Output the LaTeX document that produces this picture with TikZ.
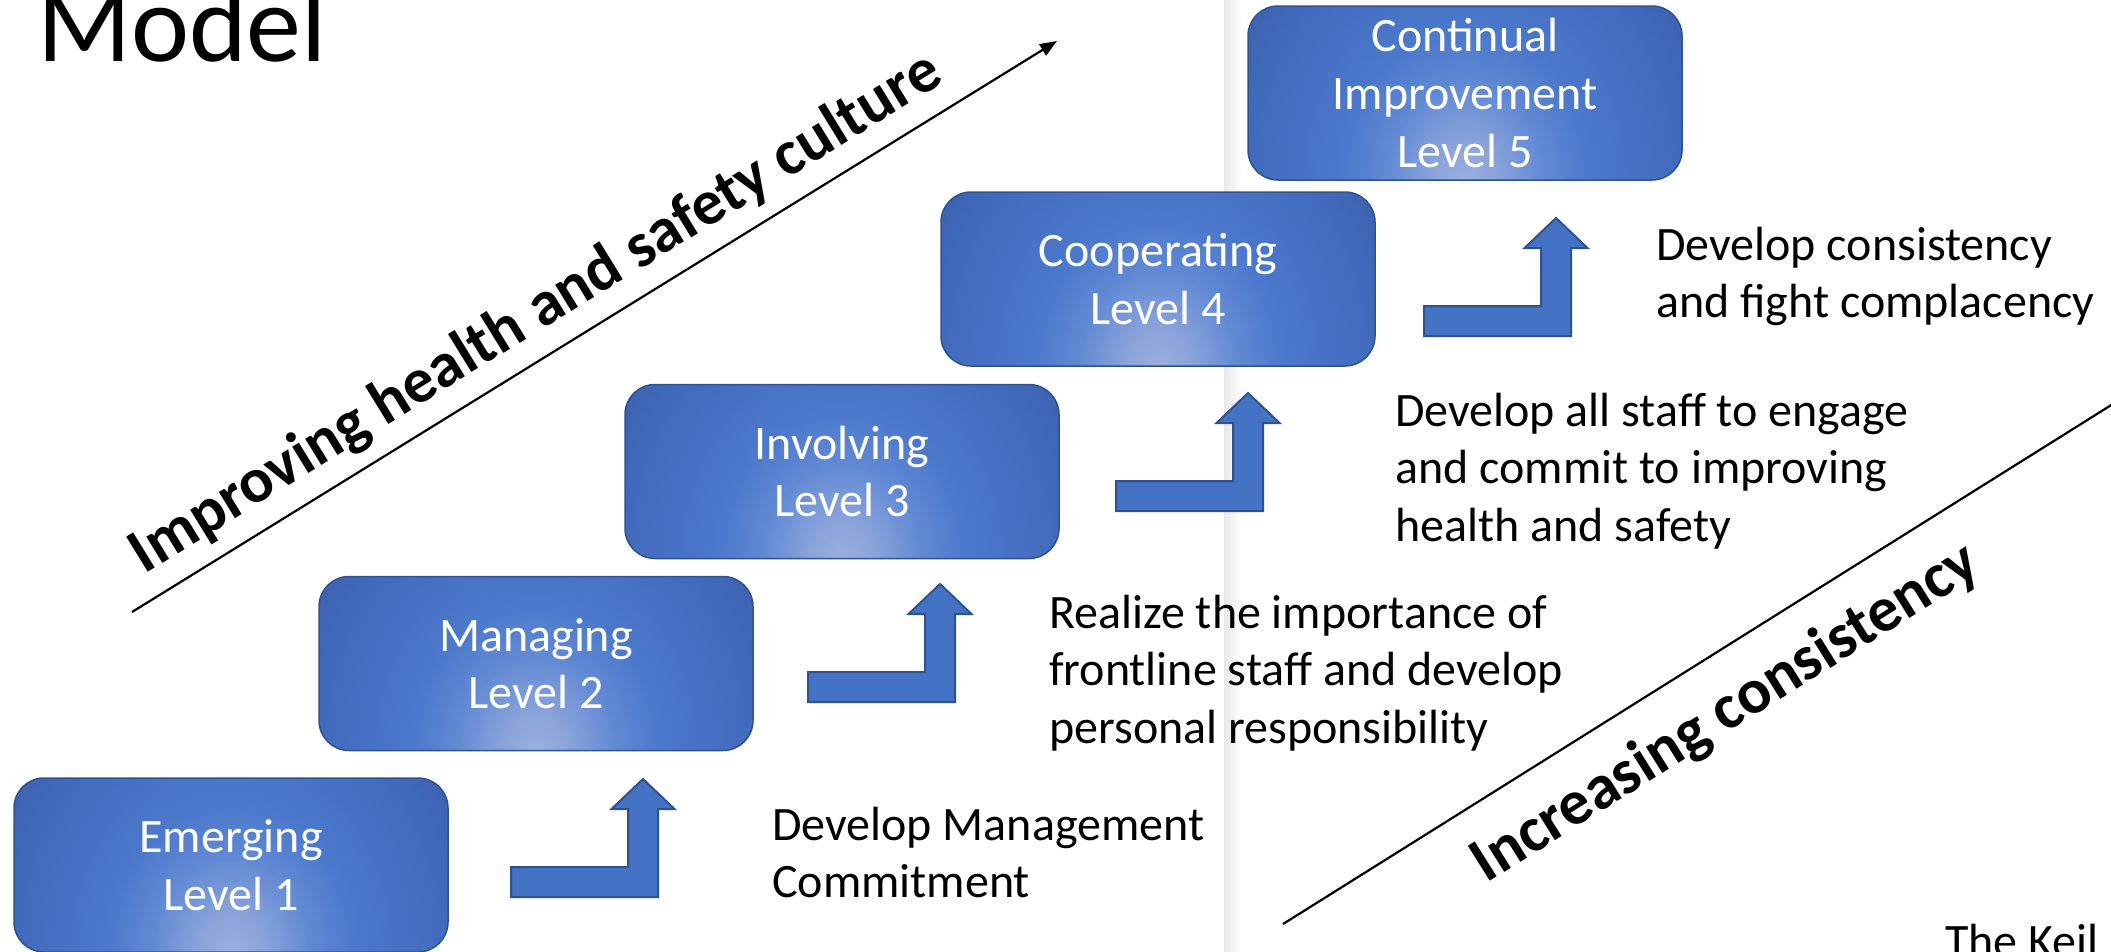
\documentclass[tikz,border=0pt]{standalone}
\usepackage{fontspec}
\setmainfont{Carlito}
\usetikzlibrary{arrows.meta,calc}
\definecolor{boxlight}{RGB}{154,176,222}
\definecolor{boxlightb}{RGB}{136,162,218}
\definecolor{boxa}{RGB}{98,138,212}
\definecolor{boxb}{RGB}{76,121,204}
\definecolor{boxc}{RGB}{65,106,188}
\definecolor{boxd}{RGB}{55,90,162}
\definecolor{boxe}{RGB}{46,78,140}
\definecolor{boxdark}{RGB}{41,71,127}
\definecolor{boxline}{RGB}{47,82,143}
\definecolor{arrowfill}{RGB}{68,114,196}
\pgfdeclareradialshading{boxshade}{\pgfpoint{0bp}{0bp}}{color(0bp)=(boxlight); color(4bp)=(boxlightb); color(9bp)=(boxa); color(14bp)=(boxb); color(25bp)=(boxc); color(35bp)=(boxd); color(45bp)=(boxe); color(50bp)=(boxdark)}
\begin{document}
\begin{tikzpicture}[x=1pt,y=-1pt,
  lvl/.style={rectangle, rounded corners=30pt, minimum width=434pt, minimum height=174pt,
    draw=boxline, line width=1.5pt, text=white, align=center, inner sep=0pt,
    font=\fontsize{48}{57.6}\selectfont,
    path picture={\shade[shading=boxshade]
      ($(path picture bounding box.south)+(-217pt,-260pt)$) rectangle
      ($(path picture bounding box.south)+(217pt,260pt)$);}},
  desc/.style={anchor=base west, inner sep=0pt, text=black, font=\fontsize{48}{57.6}\selectfont},
  diag/.style={anchor=base, inner sep=0pt, text=black, font=\fontsize{63.5}{76}\selectfont\bfseries},
  guide/.style={draw=black, line width=2.2pt},
  arrowshape/.style={fill=arrowfill, draw=boxline, line width=2pt, line join=miter},
  bentup/.pic={\path[arrowshape] (0,0) -- (-147,0) -- (-147,-30) -- (-30,-30) -- (-30,-88)
      -- (-46.5,-88) -- (-15,-118) -- (16.5,-88) -- (0,-88) -- cycle;}
]
\useasboundingbox (0,0) rectangle (2111,951);
\clip (0,0) rectangle (2111,951);
\fill[white] (0,0) rectangle (2111,951);
% page edge shadow
\shade[left color=black!9, right color=white] (1224,0) rectangle (1242,951);

% title fragment
\node[anchor=base west, inner sep=0pt, font=\fontsize{110}{132}\selectfont] (model) at (37,61) {Model};

% level boxes
\node[lvl] (l1) at (231,865) {Emerging\\Level 1};
\node[lvl] (l2) at (536,663.5) {Managing\\Level 2};
\node[lvl] (l3) at (842,471.5) {Involving\\Level 3};
\node[lvl] (l4) at (1158,279) {Cooperating\\Level 4};
\node[lvl] (l5) at (1465,93) {Continual\\Improvement\\Level 5};

% bent-up arrows
\pic at (658,897) {bentup};
\pic at (955,702) {bentup};
\pic at (1263,511) {bentup};
\pic at (1571,336) {bentup};

% descriptions
\node[desc] (d1) at (772,840) {\begin{tabular}[t]{@{}l@{}}Develop Management\\Commitment\end{tabular}};
\node[desc] (d2) at (1049,628) {\begin{tabular}[t]{@{}l@{}}Realize the importance of\\frontline staff and develop\\personal responsibility\end{tabular}};
\node[desc] (d3) at (1395,426) {\begin{tabular}[t]{@{}l@{}}Develop all staff to engage\\and commit to improving\\health and safety\end{tabular}};
\node[desc] (d4) at (1656,260) {\begin{tabular}[t]{@{}l@{}}Develop consistency\\and fight complacency\end{tabular}};

% diagonal guides
\coordinate (g1s) at (132,612);
\coordinate (g1e) at (1057,41);
\draw[guide, -{Triangle[length=17pt,width=13pt]}] (g1s) -- (g1e);
\coordinate (g2s) at (1283,924);
\coordinate (g2e) at (2140,387);
\draw[guide] (g2s) -- (g2e);

\node[diag, rotate=31.6] (t1) at (545,328) {Improving health and safety culture};
\node[diag, rotate=32.1] (t2) at (1735,728) {Increasing consistency};

\node[desc] (keil) at (1945,957) {The Keil};
\end{tikzpicture}
\end{document}
